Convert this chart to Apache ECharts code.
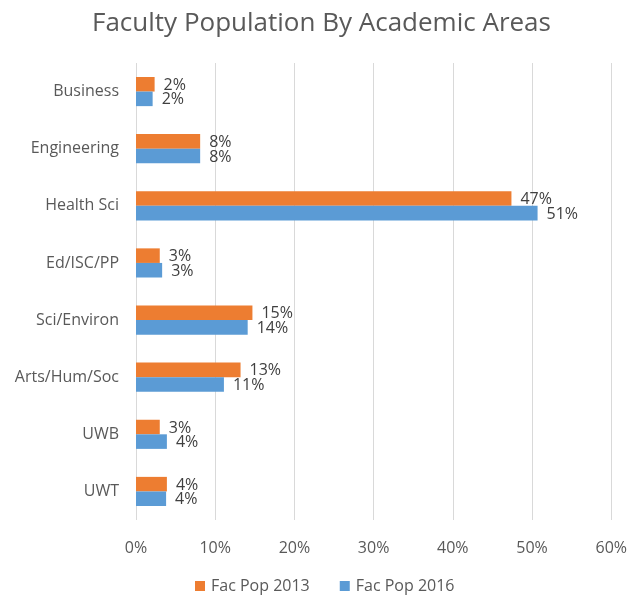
<!DOCTYPE html>
<html>
<head>
<meta charset="utf-8">
<script src="https://cdn.jsdelivr.net/npm/echarts@6/dist/echarts.min.js"></script>
<style>html,body{margin:0;padding:0;background:#fff;}#c{width:630px;height:596px;}</style>
</head>
<body>
<div id="c"></div>
<script>
const categories = ['Business','Engineering','Health Sci','Ed/ISC/PP','Sci/Environ','Arts/Hum/Soc','UWB','UWT'];
const pop2013 = [2.35, 8.1, 47.4, 3.0, 14.7, 13.2, 3.0, 3.9];
const pop2016 = [2.1, 8.1, 50.7, 3.3, 14.1, 11.1, 3.9, 3.8];
const xTicks = [0, 10, 20, 30, 40, 50, 60];

const FONT = '"Open Sans", "Noto Sans", sans-serif';
const chart = echarts.init(document.getElementById('c'));
chart.setOption({
  animation: false,
  backgroundColor: '#fff',
  title: {
    text: 'Faculty Population By Academic Areas',
    left: 87, top: 6,
    textStyle: { color: '#595959', fontSize: 26, fontWeight: 'normal', fontFamily: FONT }
  },
  legend: {
    top: 573, left: 190,
    itemWidth: 10, itemHeight: 10, itemGap: 30,
    icon: 'rect',
    textStyle: { color: '#595959', fontSize: 16, fontFamily: FONT, padding: [0, 0, 0, 1] },
    data: ['Fac Pop 2013', 'Fac Pop 2016']
  },
  grid: { left: 136, right: 18, top: 63, bottom: 76, containLabel: false },
  xAxis: {
    type: 'value', min: xTicks[0], max: xTicks[xTicks.length - 1], interval: 10,
    axisLine: { show: false }, axisTick: { show: false },
    splitLine: { lineStyle: { color: '#d9d9d9', width: 1 } },
    axisLabel: { formatter: v => v + '%', color: '#595959', fontSize: 16, fontFamily: FONT, margin: 20 }
  },
  yAxis: {
    type: 'category', data: categories, inverse: true,
    axisLine: { show: false }, axisTick: { show: false },
    axisLabel: { color: '#595959', fontSize: 16, fontFamily: FONT, margin: 17 }
  },
  series: [
    {
      name: 'Fac Pop 2013', type: 'bar', data: pop2013,
      barGap: '0%', barCategoryGap: '49%',
      itemStyle: { color: '#ed7d31' },
      label: { show: true, position: 'right', distance: 9, offset: [0, 1],
        formatter: p => Math.round(p.value) + '%', color: '#404040', fontSize: 16, fontFamily: FONT }
    },
    {
      name: 'Fac Pop 2016', type: 'bar', data: pop2016,
      barGap: '0%', barCategoryGap: '49%',
      itemStyle: { color: '#5b9bd5' },
      label: { show: true, position: 'right', distance: 9, offset: [0, 1],
        formatter: p => Math.round(p.value) + '%', color: '#404040', fontSize: 16, fontFamily: FONT }
    }
  ]
});
</script>
</body>
</html>
